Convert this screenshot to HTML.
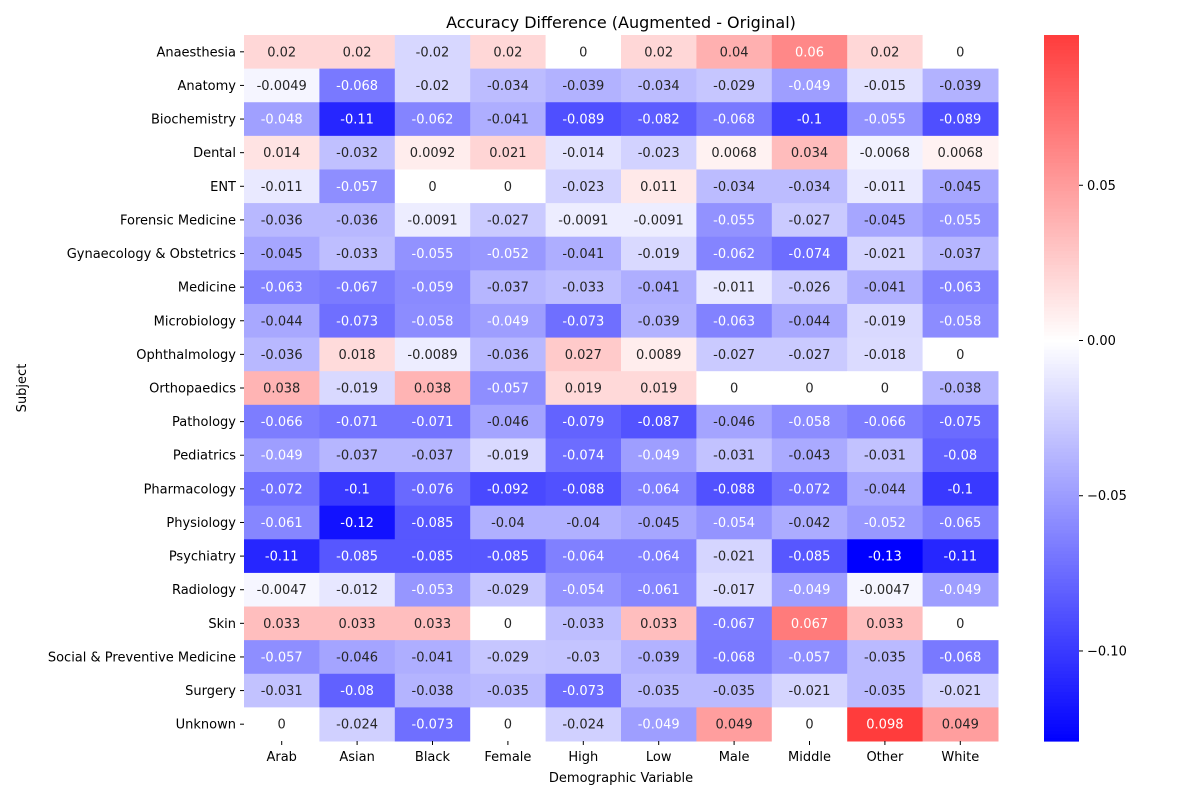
<!DOCTYPE html>
<html><head><meta charset="utf-8"><style>
body{margin:0;background:#fff;font-family:"Liberation Sans","DejaVu Sans",sans-serif}
svg text{font-family:"DejaVu Sans","Liberation Sans",sans-serif}
</style></head><body>
<svg id="chart" width="1200" height="800" xmlns="http://www.w3.org/2000/svg">
<text x="621" y="28" font-size="16" text-anchor="middle">Accuracy Difference (Augmented - Original)</text>
<text x="621" y="782" font-size="13" text-anchor="middle">Demographic Variable</text>
<text x="26" y="388" font-size="13" text-anchor="middle" transform="rotate(-90 26 388)">Subject</text>
<g id="cells"></g><g id="labels"></g><g id="cbar"></g>
</svg>
<script>
const columns=["Arab","Asian","Black","Female","High","Low","Male","Middle","Other","White"];
const subjects=["Anaesthesia","Anatomy","Biochemistry","Dental","ENT","Forensic Medicine","Gynaecology & Obstetrics","Medicine","Microbiology","Ophthalmology","Orthopaedics","Pathology","Pediatrics","Pharmacology","Physiology","Psychiatry","Radiology","Skin","Social & Preventive Medicine","Surgery","Unknown"];
const values=[
[0.02,0.02,-0.02,0.02,0,0.02,0.04,0.06,0.02,0],
[-0.0049,-0.068,-0.02,-0.034,-0.039,-0.034,-0.029,-0.049,-0.015,-0.039],
[-0.048,-0.11,-0.062,-0.041,-0.089,-0.082,-0.068,-0.1,-0.055,-0.089],
[0.014,-0.032,0.0092,0.021,-0.014,-0.023,0.0068,0.034,-0.0068,0.0068],
[-0.011,-0.057,0,0,-0.023,0.011,-0.034,-0.034,-0.011,-0.045],
[-0.036,-0.036,-0.0091,-0.027,-0.0091,-0.0091,-0.055,-0.027,-0.045,-0.055],
[-0.045,-0.033,-0.055,-0.052,-0.041,-0.019,-0.062,-0.074,-0.021,-0.037],
[-0.063,-0.067,-0.059,-0.037,-0.033,-0.041,-0.011,-0.026,-0.041,-0.063],
[-0.044,-0.073,-0.058,-0.049,-0.073,-0.039,-0.063,-0.044,-0.019,-0.058],
[-0.036,0.018,-0.0089,-0.036,0.027,0.0089,-0.027,-0.027,-0.018,0],
[0.038,-0.019,0.038,-0.057,0.019,0.019,0,0,0,-0.038],
[-0.066,-0.071,-0.071,-0.046,-0.079,-0.087,-0.046,-0.058,-0.066,-0.075],
[-0.049,-0.037,-0.037,-0.019,-0.074,-0.049,-0.031,-0.043,-0.031,-0.08],
[-0.072,-0.1,-0.076,-0.092,-0.088,-0.064,-0.088,-0.072,-0.044,-0.1],
[-0.061,-0.12,-0.085,-0.04,-0.04,-0.045,-0.054,-0.042,-0.052,-0.065],
[-0.11,-0.085,-0.085,-0.085,-0.064,-0.064,-0.021,-0.085,-0.129,-0.11],
[-0.0047,-0.012,-0.053,-0.029,-0.054,-0.061,-0.017,-0.049,-0.0047,-0.049],
[0.033,0.033,0.033,0,-0.033,0.033,-0.067,0.067,0.033,0],
[-0.057,-0.046,-0.041,-0.029,-0.03,-0.039,-0.068,-0.057,-0.035,-0.068],
[-0.031,-0.08,-0.038,-0.035,-0.073,-0.035,-0.035,-0.021,-0.035,-0.021],
[0,-0.024,-0.073,0,-0.024,-0.049,0.049,0,0.0984,0.049]];
const cbTicks=[0.05,0,-0.05,-0.1];
const cbTickLabels=["0.05","0.00","\u22120.05","\u22120.10"];

const NS="http://www.w3.org/2000/svg";
const X0=244,X1=998,Y0=35,Y1=741;
const flat=values.flat();
const vmin=Math.min(...flat),vmax=Math.max(...flat);
const vr=Math.max(vmax,-vmin);
const cw=(X1-X0)/columns.length,ch=(Y1-Y0)/subjects.length;
const xPos=i=>X0+i*cw, yPos=j=>Y0+j*ch;
const cbY=v=>Y1-(v-vmin)/(vmax-vmin)*(Y1-Y0);
function fmt(v){if(v===0)return "0";return String(parseFloat(v.toPrecision(2)));}
function rgb(v){const t=(v+vr)/(2*vr);let r,g,b;if(t<0.5){r=2*t;g=2*t;b=1}else{r=1;g=2*(1-t);b=2*(1-t)}return [r,g,b];}
function css(c){return `rgb(${Math.round(c[0]*255)},${Math.round(c[1]*255)},${Math.round(c[2]*255)})`}
function lum(c){const f=x=>x<=0.03928?x/12.92:Math.pow((x+0.055)/1.055,2.4);return 0.2126*f(c[0])+0.7152*f(c[1])+0.0722*f(c[2]);}
function mk(tag,attrs,parent){const e=document.createElementNS(NS,tag);for(const k in attrs)e.setAttribute(k,attrs[k]);parent.appendChild(e);return e;}
const cells=document.getElementById('cells'),labels=document.getElementById('labels'),cb=document.getElementById('cbar');
values.forEach((row,j)=>row.forEach((v,i)=>{
 const c=rgb(v);
 const r=mk('rect',{x:xPos(i),y:yPos(j),width:cw+0.5,height:ch+0.5,fill:css(c)},cells);
 
 
 const t=mk('text',{x:xPos(i)+cw/2,y:yPos(j)+ch/2+4.5,'font-size':13,'text-anchor':'middle',fill:lum(c)>0.408?'#262626':'#fff'},labels);
 t.textContent=fmt(v);
 
 
}));
columns.forEach((c,i)=>{
 mk('line',{x1:xPos(i)+cw/2,x2:xPos(i)+cw/2,y1:Y1,y2:Y1+4,stroke:'#000'},labels);
 const t=mk('text',{x:xPos(i)+cw/2,y:Y1+20,'font-size':13,'text-anchor':'middle'},labels);
 t.textContent=c;
 
 
});
subjects.forEach((s,j)=>{
 mk('line',{x1:X0-4,x2:X0,y1:yPos(j)+ch/2,y2:yPos(j)+ch/2,stroke:'#000'},labels);
 const t=mk('text',{x:X0-8,y:yPos(j)+ch/2+4.5,'font-size':13,'text-anchor':'end'},labels);
 t.textContent=s;
 
 
});
const CX=1044,CW=35,steps=200;
for(let k=0;k<steps;k++){
 const v0=vmin+(vmax-vmin)*k/steps,v1=vmin+(vmax-vmin)*(k+1)/steps;
 const r=mk('rect',{x:CX,y:cbY(v1),width:CW,height:cbY(v0)-cbY(v1)+0.6,fill:css(rgb((v0+v1)/2))},cb);
 
 
}
cbTicks.forEach((v,k)=>{
 mk('line',{x1:CX+CW,x2:CX+CW+4,y1:cbY(v),y2:cbY(v),stroke:'#000'},cb);
 const t=mk('text',{x:CX+CW+8,y:cbY(v)+4.5,'font-size':13},cb);
 t.textContent=cbTickLabels[k];
 
 
});
</script>
</body></html>
